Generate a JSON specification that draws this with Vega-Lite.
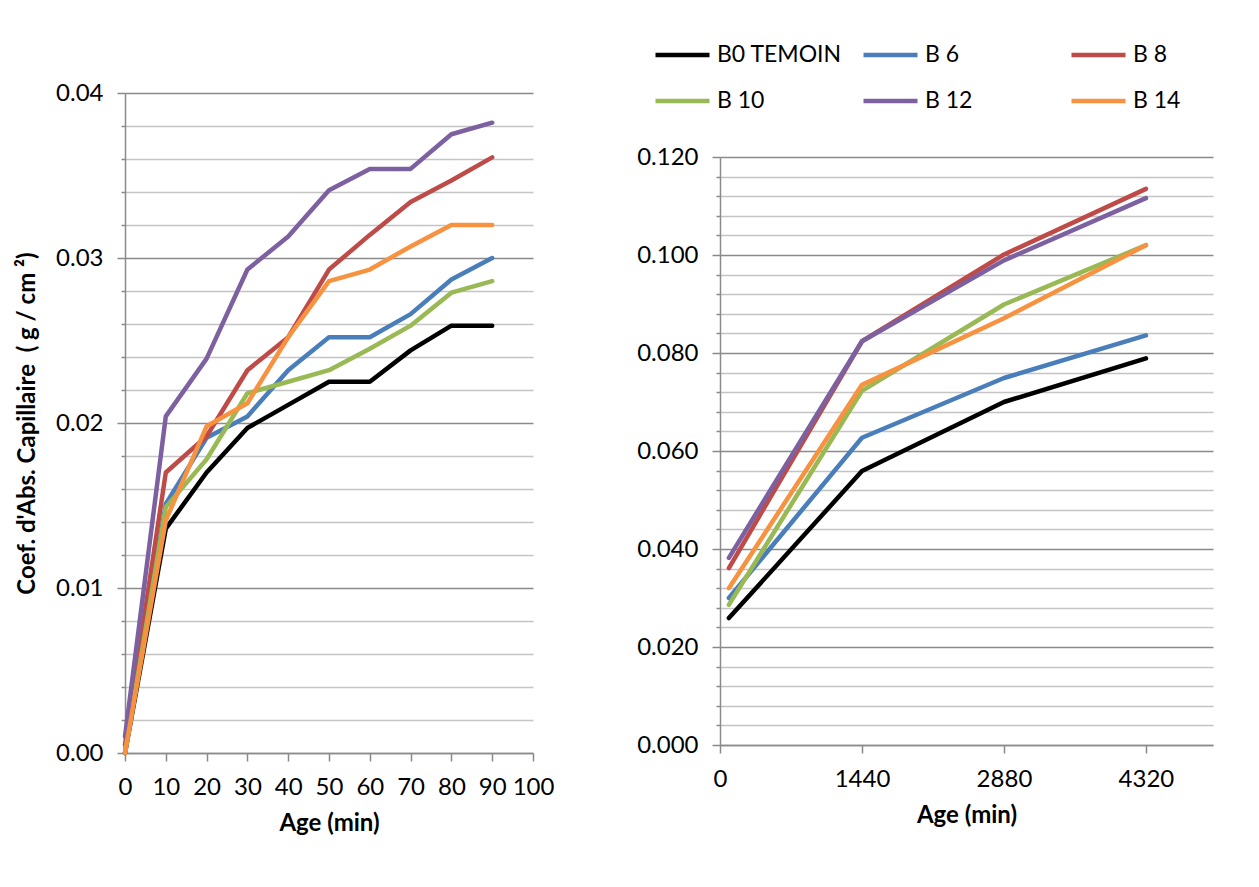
{
  "$schema": "https://vega.github.io/schema/vega-lite/v6.json",
  "background": "white",
  "padding": {"left": 15, "top": 45, "right": 5, "bottom": 5},
  "datasets": {
    "short": [
      {"t": 0, "v": 0, "serie": "B0 TEMOIN"}, {"t": 10, "v": 0.0136, "serie": "B0 TEMOIN"}, {"t": 20, "v": 0.0170, "serie": "B0 TEMOIN"}, {"t": 30, "v": 0.0197, "serie": "B0 TEMOIN"}, {"t": 40, "v": 0.0211, "serie": "B0 TEMOIN"}, {"t": 50, "v": 0.0225, "serie": "B0 TEMOIN"}, {"t": 60, "v": 0.0225, "serie": "B0 TEMOIN"}, {"t": 70, "v": 0.0244, "serie": "B0 TEMOIN"}, {"t": 80, "v": 0.0259, "serie": "B0 TEMOIN"}, {"t": 90, "v": 0.0259, "serie": "B0 TEMOIN"},
      {"t": 0, "v": 0, "serie": "B 6"}, {"t": 10, "v": 0.0151, "serie": "B 6"}, {"t": 20, "v": 0.0191, "serie": "B 6"}, {"t": 30, "v": 0.0204, "serie": "B 6"}, {"t": 40, "v": 0.0232, "serie": "B 6"}, {"t": 50, "v": 0.0252, "serie": "B 6"}, {"t": 60, "v": 0.0252, "serie": "B 6"}, {"t": 70, "v": 0.0266, "serie": "B 6"}, {"t": 80, "v": 0.0287, "serie": "B 6"}, {"t": 90, "v": 0.0300, "serie": "B 6"},
      {"t": 0, "v": 0.0005, "serie": "B 8"}, {"t": 10, "v": 0.0170, "serie": "B 8"}, {"t": 20, "v": 0.0192, "serie": "B 8"}, {"t": 30, "v": 0.0232, "serie": "B 8"}, {"t": 40, "v": 0.0252, "serie": "B 8"}, {"t": 50, "v": 0.0293, "serie": "B 8"}, {"t": 60, "v": 0.0314, "serie": "B 8"}, {"t": 70, "v": 0.0334, "serie": "B 8"}, {"t": 80, "v": 0.0347, "serie": "B 8"}, {"t": 90, "v": 0.0361, "serie": "B 8"},
      {"t": 0, "v": 0, "serie": "B 10"}, {"t": 10, "v": 0.0149, "serie": "B 10"}, {"t": 20, "v": 0.0178, "serie": "B 10"}, {"t": 30, "v": 0.0218, "serie": "B 10"}, {"t": 40, "v": 0.0225, "serie": "B 10"}, {"t": 50, "v": 0.0232, "serie": "B 10"}, {"t": 60, "v": 0.0245, "serie": "B 10"}, {"t": 70, "v": 0.0259, "serie": "B 10"}, {"t": 80, "v": 0.0279, "serie": "B 10"}, {"t": 90, "v": 0.0286, "serie": "B 10"},
      {"t": 0, "v": 0.001, "serie": "B 12"}, {"t": 10, "v": 0.0204, "serie": "B 12"}, {"t": 20, "v": 0.0239, "serie": "B 12"}, {"t": 30, "v": 0.0293, "serie": "B 12"}, {"t": 40, "v": 0.0313, "serie": "B 12"}, {"t": 50, "v": 0.0341, "serie": "B 12"}, {"t": 60, "v": 0.0354, "serie": "B 12"}, {"t": 70, "v": 0.0354, "serie": "B 12"}, {"t": 80, "v": 0.0375, "serie": "B 12"}, {"t": 90, "v": 0.0382, "serie": "B 12"},
      {"t": 0, "v": 0, "serie": "B 14"}, {"t": 10, "v": 0.0141, "serie": "B 14"}, {"t": 20, "v": 0.0198, "serie": "B 14"}, {"t": 30, "v": 0.0212, "serie": "B 14"}, {"t": 40, "v": 0.0252, "serie": "B 14"}, {"t": 50, "v": 0.0286, "serie": "B 14"}, {"t": 60, "v": 0.0293, "serie": "B 14"}, {"t": 70, "v": 0.0307, "serie": "B 14"}, {"t": 80, "v": 0.0320, "serie": "B 14"}, {"t": 90, "v": 0.0320, "serie": "B 14"}
    ],
    "long": [
      {"t": 90, "v": 0.0259, "serie": "B0 TEMOIN"}, {"t": 1440, "v": 0.0559, "serie": "B0 TEMOIN"}, {"t": 2880, "v": 0.0700, "serie": "B0 TEMOIN"}, {"t": 4320, "v": 0.0789, "serie": "B0 TEMOIN"},
      {"t": 90, "v": 0.0300, "serie": "B 6"}, {"t": 1440, "v": 0.0627, "serie": "B 6"}, {"t": 2880, "v": 0.0749, "serie": "B 6"}, {"t": 4320, "v": 0.0836, "serie": "B 6"},
      {"t": 90, "v": 0.0361, "serie": "B 8"}, {"t": 1440, "v": 0.0824, "serie": "B 8"}, {"t": 2880, "v": 0.1001, "serie": "B 8"}, {"t": 4320, "v": 0.1135, "serie": "B 8"},
      {"t": 90, "v": 0.0286, "serie": "B 10"}, {"t": 1440, "v": 0.0723, "serie": "B 10"}, {"t": 2880, "v": 0.0899, "serie": "B 10"}, {"t": 4320, "v": 0.1020, "serie": "B 10"},
      {"t": 90, "v": 0.0382, "serie": "B 12"}, {"t": 1440, "v": 0.0824, "serie": "B 12"}, {"t": 2880, "v": 0.0989, "serie": "B 12"}, {"t": 4320, "v": 0.1116, "serie": "B 12"},
      {"t": 90, "v": 0.0320, "serie": "B 14"}, {"t": 1440, "v": 0.0735, "serie": "B 14"}, {"t": 2880, "v": 0.0871, "serie": "B 14"}, {"t": 4320, "v": 0.1020, "serie": "B 14"}
    ]
  },
  "spacing": 187,
  "bounds": "flush",
  "resolve": {"scale": {"color": "shared"}, "legend": {"color": "independent"}},
  "hconcat": [
    {
      "width": 408,
      "height": 660,
      "data": {"name": "short"},
      "mark": {"type": "line", "strokeWidth": 4.5, "strokeJoin": "round", "strokeCap": "round"},
      "encoding": {
        "x": {
          "field": "t", "type": "quantitative",
          "scale": {"domain": [0, 100], "nice": false},
          "axis": {"values": [0, 10, 20, 30, 40, 50, 60, 70, 80, 90, 100], "grid": false, "title": "Age (min)", "tickSize": 8, "labelPadding": 14, "titlePadding": 12, "labelFlush": false, "labelOverlap": false, "format": "d"}
        },
        "y": {
          "field": "v", "type": "quantitative",
          "scale": {"domain": [0, 0.04], "nice": false},
          "axis": {
            "values": [0, 0.002, 0.004, 0.006, 0.008, 0.01, 0.012, 0.014, 0.016, 0.018, 0.02, 0.022, 0.024, 0.026, 0.028, 0.03, 0.032, 0.034, 0.036, 0.038, 0.04],
            "labelExpr": "abs(datum.value*100 - round(datum.value*100)) < 0.001 ? format(datum.value, '.2f') : ''",
            "grid": true,
            "gridColor": {"condition": {"test": "abs(datum.value*100 - round(datum.value*100)) < 0.001", "value": "#8a8a8a"}, "value": "#c4c4c4"},
            "tickSize": {"condition": {"test": "abs(datum.value*100 - round(datum.value*100)) < 0.001", "value": 8}, "value": 4},
            "labelPadding": 14,
            "labelOverlap": false,
            "labelFlush": false,
            "title": "Coef. d'Abs. Capillaire \u00a0( g / cm ²)",
            "titlePadding": 16
          }
        },
        "color": {
          "field": "serie", "type": "nominal",
          "scale": {"domain": ["B0 TEMOIN", "B 6", "B 8", "B 10", "B 12", "B 14"], "range": ["#000000", "#4a7ebb", "#be4b48", "#98b954", "#7d60a0", "#f69240"]},
          "legend": null
        }
      }
    },
    {
      "width": 493,
      "height": 660,
      "data": {"name": "long"},
      "mark": {"type": "line", "strokeWidth": 4.5, "strokeJoin": "round", "strokeCap": "round"},
      "encoding": {
        "x": {
          "field": "t", "type": "quantitative",
          "scale": {"domain": [0, 5000], "nice": false},
          "axis": {"values": [0, 1440, 2880, 4320], "grid": false, "title": "Age (min)", "offset": -8, "tickSize": 8, "labelPadding": 14, "titlePadding": 12, "labelFlush": false, "labelOverlap": false, "format": "d"}
        },
        "y": {
          "field": "v", "type": "quantitative",
          "scale": {"domain": [0, 0.12], "nice": false, "range": [652, 64]},
          "axis": {
            "values": [0, 0.004, 0.008, 0.012, 0.016, 0.02, 0.024, 0.028, 0.032, 0.036, 0.04, 0.044, 0.048, 0.052, 0.056, 0.06, 0.064, 0.068, 0.072, 0.076, 0.08, 0.084, 0.088, 0.092, 0.096, 0.1, 0.104, 0.108, 0.112, 0.116, 0.12],
            "labelExpr": "abs(datum.value*50 - round(datum.value*50)) < 0.001 ? format(datum.value, '.3f') : ''",
            "grid": true,
            "gridColor": {"condition": {"test": "abs(datum.value*50 - round(datum.value*50)) < 0.001", "value": "#8a8a8a"}, "value": "#c4c4c4"},
            "tickSize": {"condition": {"test": "abs(datum.value*50 - round(datum.value*50)) < 0.001", "value": 8}, "value": 4},
            "labelPadding": 14,
            "labelOverlap": false,
            "labelFlush": false,
            "title": null
          }
        },
        "color": {
          "field": "serie", "type": "nominal",
          "scale": {"domain": ["B0 TEMOIN", "B 6", "B 8", "B 10", "B 12", "B 14"], "range": ["#000000", "#4a7ebb", "#be4b48", "#98b954", "#7d60a0", "#f69240"]},
          "legend": {
            "orient": "none", "direction": "horizontal", "legendX": -67, "legendY": -48,
            "columns": 3, "gridAlign": "all", "columnPadding": 19, "rowPadding": 23,
            "clipHeight": 20, "symbolType": "stroke", "symbolSize": 2916, "symbolStrokeWidth": 4.5,
            "labelFont": "Lato", "labelFontSize": 23, "labelColor": "#000000", "labelOffset": 5, "labelLimit": 300,
            "title": null, "padding": 0
          }
        }
      }
    }
  ],
  "config": {
    "font": "Lato",
    "view": {"stroke": null},
    "axis": {
      "labelFont": "Lato", "labelFontSize": 24, "labelColor": "#000000",
      "titleFont": "Lato", "titleFontSize": 24, "titleFontWeight": "bold", "titleColor": "#000000",
      "domainColor": "#8a8a8a", "domainWidth": 1.5, "tickColor": "#8a8a8a", "tickWidth": 1.5, "gridWidth": 1.5
    }
  }
}
